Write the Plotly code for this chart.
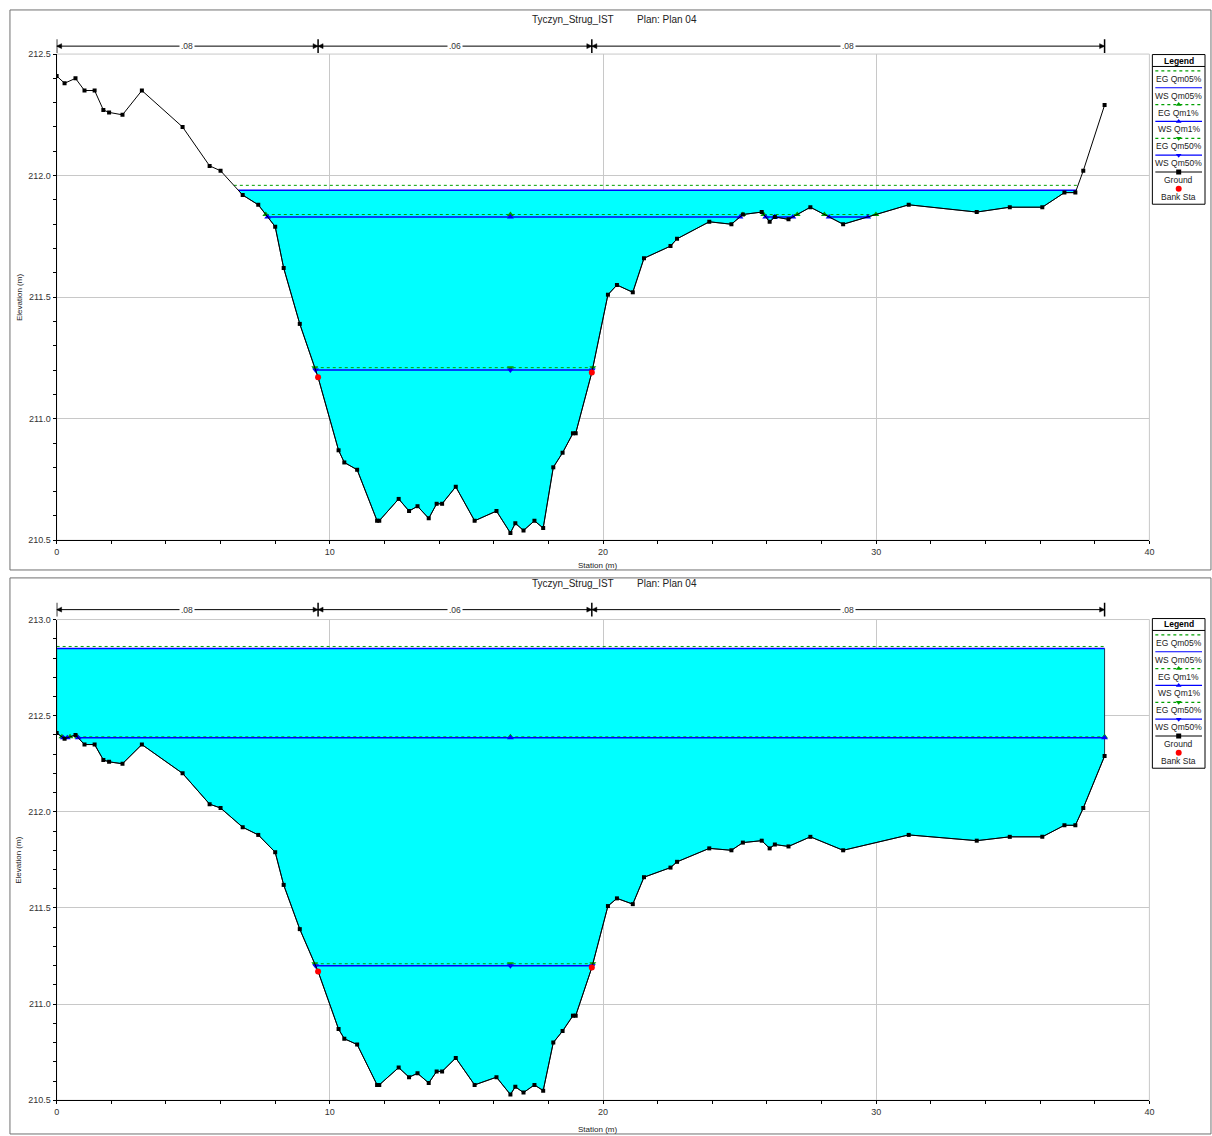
import numpy as np
import plotly.graph_objects as go

# ---------------- data ----------------
station = [0, 0.29, 0.69, 1.02, 1.39, 1.71, 1.92, 2.41, 3.12, 4.61,
           5.60, 6.00, 6.81, 7.38, 8.00, 8.31, 8.90, 9.57, 10.32, 10.53,
           11.00, 11.73, 11.81, 12.52, 12.90, 13.21, 13.62, 13.91, 14.11, 14.61,
           15.30, 16.10, 16.61, 16.79, 17.09, 17.49, 17.81, 18.18, 18.52, 18.90,
           19.00, 19.59, 20.18, 20.51, 21.09, 21.50, 22.47, 22.71, 23.89, 24.70,
           25.12, 25.81, 26.10, 26.29, 26.79, 27.59, 28.79, 31.19, 33.68, 34.89,
           36.08, 36.89, 37.29, 37.58, 38.36]
elevation = [212.41, 212.38, 212.40, 212.35, 212.35, 212.27, 212.26, 212.25, 212.35, 212.20,
             212.04, 212.02, 211.92, 211.88, 211.79, 211.62, 211.39, 211.17, 210.87, 210.82,
             210.79, 210.58, 210.58, 210.67, 210.62, 210.64, 210.59, 210.65, 210.65, 210.72,
             210.58, 210.62, 210.53, 210.57, 210.54, 210.58, 210.55, 210.80, 210.86, 210.94,
             210.94, 211.19, 211.51, 211.55, 211.52, 211.66, 211.71, 211.74, 211.81, 211.80,
             211.84, 211.85, 211.81, 211.83, 211.82, 211.87, 211.80, 211.88, 211.85, 211.87,
             211.87, 211.93, 211.93, 212.02, 212.29]
bank_sta = [9.57, 19.59]
n_values = [".08", ".06", ".08"]

profiles = ["Qm05%", "Qm1%", "Qm50%"]
ws_top = [211.94, 211.83, 211.20]
eg_top = [211.96, 211.84, 211.21]
ws_bottom = [212.85, 212.385, 211.20]
eg_bottom = [212.86, 212.39, 211.21]

title_river = "Tyczyn_Strug_IST"
title_plan = "Plan: Plan 04"

# ---------------- helpers ----------------
W, H = 1212, 1136
FONT = "Liberation Sans, Arial, sans-serif"
CYAN = "#00ffff"
BLUE = "#0000ff"
GREEN = "#00a000"
RED = "#ff0000"


def px(x):
    return x / W


def py(y):
    return 1 - y / H


st = np.array(station, dtype=float)
el = np.array(elevation, dtype=float)
thalweg = st[int(np.argmin(el))]


def wet_segments(level):
    def cross(i, j):
        return st[i] + (level - el[i]) * (st[j] - st[i]) / (el[j] - el[i])
    segs, cur = [], None
    for i in range(len(st)):
        if el[i] < level:
            if cur is None:
                cur = [(st[0], level)] if i == 0 else [(cross(i - 1, i), level)]
            cur.append((st[i], el[i]))
        else:
            if cur is not None:
                cur.append((cross(i - 1, i), level))
                segs.append(cur)
                cur = None
    if cur is not None:
        cur.append((st[-1], level))
        segs.append(cur)
    return segs


def ann(x, y, text, size=8.5, color="#222", xanchor="center", **kw):
    d = dict(x=x, y=y, xref="paper", yref="paper", text=text, showarrow=False,
             xanchor=xanchor, yanchor="middle",
             font=dict(size=size, color=color, family=FONT))
    d.update(kw)
    return d


fig = go.Figure()

panels = [
    dict(xa="x", ya="y", ws=ws_top, eg=eg_top, yr=[210.5, 212.5],
         top=49.5, bottom=540, offset=0, arrow=8),
    dict(xa="x2", ya="y2", ws=ws_bottom, eg=eg_bottom, yr=[210.5, 213.0],
         top=620, bottom=1105, offset=569, arrow=10),
]

symbols = [None, "triangle-up", "triangle-down"]
shapes, annotations = [], []

for p in panels:
    xa, ya = p["xa"], p["ya"]
    # fill of highest profile
    fx, fy = [], []
    for seg in wet_segments(p["ws"][0]):
        fx += [q[0] for q in seg] + [None]
        fy += [q[1] for q in seg] + [None]
    fig.add_trace(go.Scatter(x=fx, y=fy, mode="lines", fill="toself", fillcolor=CYAN,
                             line=dict(color="#1c3c4c", width=1), xaxis=xa, yaxis=ya,
                             hoverinfo="skip", showlegend=False))
    # EG / WS lines
    for k in range(len(profiles)):
        for level, color, dash in ((p["eg"][k], GREEN, "dot"), (p["ws"][k], BLUE, "solid")):
            lx, ly, mx = [], [], []
            for seg in wet_segments(level):
                xl, xr = seg[0][0], seg[-1][0]
                lx += [xl, xr, None]
                ly += [level, level, None]
                mx += [xl, xr]
                if xl <= thalweg <= xr:
                    mx.append(thalweg)
            fig.add_trace(go.Scatter(x=lx, y=ly, mode="lines",
                                     line=dict(color=color, width=1 if dash == "dot" else 1.5, dash=dash),
                                     xaxis=xa, yaxis=ya, hoverinfo="skip", showlegend=False))
            if symbols[k]:
                fig.add_trace(go.Scatter(x=mx, y=[level] * len(mx), mode="markers",
                                         marker=dict(symbol=symbols[k], size=6, color=color),
                                         xaxis=xa, yaxis=ya, hoverinfo="skip", showlegend=False))
    # ground
    fig.add_trace(go.Scatter(x=station, y=elevation, mode="lines+markers",
                             line=dict(color="black", width=1),
                             marker=dict(symbol="square", size=4, color="black"),
                             xaxis=xa, yaxis=ya, hoverinfo="skip", showlegend=False))
    # bank stations
    fig.add_trace(go.Scatter(x=bank_sta, y=list(np.interp(bank_sta, st, el)), mode="markers",
                             marker=dict(symbol="circle", size=6, color=RED),
                             xaxis=xa, yaxis=ya, hoverinfo="skip", showlegend=False))

    # plot border (top/right light gray)
    shapes.append(dict(type="rect", xref=xa + " domain", yref=ya + " domain", x0=0, x1=1, y0=0, y1=1,
                       line=dict(color="#c8c8c8", width=1), layer="below"))

    # Manning's n bar
    dh = p["bottom"] - p["top"]
    yb = 1 + p["arrow"] / dh
    tk = 7 / dh
    ah_len = 5 / 27.5
    ah_w = 2.5 / dh
    breaks = [st[0]] + bank_sta + [st[-1]]
    yd = ya + " domain"
    shapes.append(dict(type="line", xref=xa, yref=yd, x0=breaks[0], x1=breaks[-1], y0=yb, y1=yb,
                       line=dict(color="black", width=1)))
    for b in breaks:
        shapes.append(dict(type="line", xref=xa, yref=yd, x0=b, x1=b, y0=yb - tk, y1=yb + tk,
                           line=dict(color="black", width=1.5)))
    for i in range(len(breaks) - 1):
        a, b = breaks[i], breaks[i + 1]
        shapes.append(dict(type="path", xref=xa, yref=yd,
                           path=f"M {a} {yb} L {a + ah_len} {yb + ah_w} L {a + ah_len} {yb - ah_w} Z",
                           fillcolor="black", line=dict(color="black", width=0.5)))
        shapes.append(dict(type="path", xref=xa, yref=yd,
                           path=f"M {b} {yb} L {b - ah_len} {yb + ah_w} L {b - ah_len} {yb - ah_w} Z",
                           fillcolor="black", line=dict(color="black", width=0.5)))
        annotations.append(dict(x=(a + b) / 2, y=yb, xref=xa, yref=yd, text=n_values[i],
                                showarrow=False, bgcolor="white", borderpad=1,
                                xanchor="center", yanchor="middle",
                                font=dict(size=8.5, color="#333", family=FONT)))

    o = p["offset"]
    # panel frame
    shapes.append(dict(type="rect", xref="paper", yref="paper", x0=px(7), x1=px(1216),
                       y0=py(570 + o), y1=py(5 + o + (4 if o else 0)),
                       line=dict(color="#707070", width=1), layer="below"))
    # titles
    annotations.append(ann(px(531), py(15 + o), title_river, size=10, xanchor="left"))
    annotations.append(ann(px(636), py(15 + o), title_plan, size=10, xanchor="left"))
    annotations.append(ann(px(16), py((p["top"] + p["bottom"]) / 2), "Elevation (m)", size=8,
                           textangle=-90))
    annotations.append(ann(px(598), py(565 + o), "Station (m)", size=8))

    # custom legend
    shapes.append(dict(type="rect", xref="paper", yref="paper", x0=px(1157), x1=px(1210),
                       y0=py(201 + o), y1=py(50 + o), line=dict(color="black", width=1),
                       fillcolor="white", layer="below"))
    shapes.append(dict(type="line", xref="paper", yref="paper", x0=px(1157), x1=px(1210),
                       y0=py(62 + o), y1=py(62 + o), line=dict(color="black", width=1)))
    annotations.append(ann(px(1183.5), py(56 + o), "<b>Legend</b>", size=8.5, color="black"))
    entries = [("EG " + profiles[0], GREEN, "dot", None),
               ("WS " + profiles[0], BLUE, "solid", None),
               ("EG " + profiles[1], GREEN, "dot", "triangle-up"),
               ("WS " + profiles[1], BLUE, "solid", "triangle-up"),
               ("EG " + profiles[2], GREEN, "dot", "triangle-down"),
               ("WS " + profiles[2], BLUE, "solid", "triangle-down"),
               ("Ground", "black", "solid", "square"),
               ("Bank Sta", RED, None, "circle")]
    for i, (name, color, dash, sym) in enumerate(entries):
        ys = 66.5 + o + 17 * i
        if dash:
            fig.add_trace(go.Scatter(x=[1160, 1207], y=[ys, ys], mode="lines",
                                     line=dict(color=color, width=1.2, dash=dash),
                                     xaxis="x3", yaxis="y3", hoverinfo="skip", showlegend=False))
        if sym:
            fig.add_trace(go.Scatter(x=[1183.5], y=[ys], mode="markers",
                                     marker=dict(symbol=sym, size=5 if sym != "circle" else 6, color=color),
                                     xaxis="x3", yaxis="y3", hoverinfo="skip", showlegend=False))
        annotations.append(ann(px(1183.5), py(ys + 8), name, size=8.5))


def xaxis_style(anchor):
    return dict(domain=[px(54), px(1154)], anchor=anchor, range=[0, 40], tick0=0, dtick=10,
                showline=True, linecolor="black", linewidth=1, mirror=False,
                showgrid=True, gridcolor="#c8c8c8", gridwidth=1, zeroline=False,
                ticks="outside", ticklen=3, tickcolor="black",
                tickfont=dict(size=9, color="#333", family=FONT),
                minor=dict(dtick=2, ticks="outside", ticklen=3, tickcolor="black", showgrid=False))


def yaxis_style(anchor, dom, rng):
    return dict(domain=dom, anchor=anchor, range=rng, tick0=210.5, dtick=0.5, tickformat=".1f",
                showline=True, linecolor="black", linewidth=1,
                showgrid=True, gridcolor="#c8c8c8", gridwidth=1, zeroline=False,
                ticks="outside", ticklen=3, tickcolor="black",
                tickfont=dict(size=9, color="#333", family=FONT),
                minor=dict(dtick=0.1, ticks="outside", ticklen=3, tickcolor="black", showgrid=False))


fig.update_layout(
    width=W, height=H, margin=dict(l=0, r=0, t=0, b=0),
    paper_bgcolor="white", plot_bgcolor="rgba(0,0,0,0)",
    font=dict(family=FONT),
    xaxis=xaxis_style("y"),
    yaxis=yaxis_style("x", [py(540), py(49.5)], panels[0]["yr"]),
    xaxis2=xaxis_style("y2"),
    yaxis2=yaxis_style("x2", [py(1105), py(620)], panels[1]["yr"]),
    xaxis3=dict(domain=[0, 1], range=[0, W], visible=False, anchor="y3", fixedrange=True),
    yaxis3=dict(domain=[0, 1], range=[H, 0], visible=False, anchor="x3", fixedrange=True),
    shapes=shapes, annotations=annotations, showlegend=False,
)

fig.write_html("out.html")
